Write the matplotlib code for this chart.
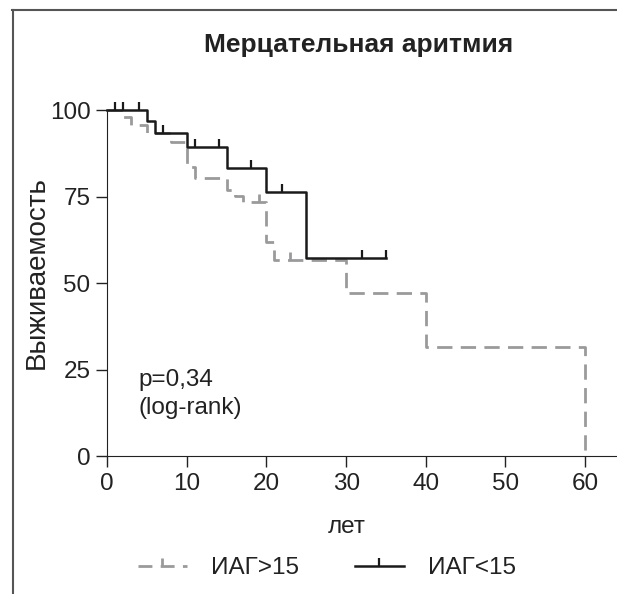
import matplotlib
matplotlib.use("Agg")
import matplotlib.pyplot as plt
from matplotlib.path import Path
from matplotlib.lines import Line2D

# ИАГ>15 (grey dashed)
gray_t = [0, 2, 3, 5, 8, 10, 11, 15, 16, 17, 20, 21, 30, 40, 60]
gray_s = [100, 98.1, 95.7, 93.3, 90.8, 83.6, 80.3, 76.9, 75.2, 73.5, 61.9, 56.6, 47.2, 31.4, 0]
gray_cens_t = [19, 23]
gray_cens_s = [73.5, 56.6]

# ИАГ<15 (black solid)
black_t = [0, 5, 6, 10, 15, 20, 25, 35]
black_s = [100, 96.8, 93.3, 89.2, 83.2, 76.2, 57.3, 57.3]
black_cens_t = [1, 2, 4, 7, 11, 14, 18, 22, 32, 35]
black_cens_s = [100, 100, 100, 93.3, 89.2, 89.2, 83.2, 76.2, 57.3, 57.3]

x_ticks = [0, 10, 20, 30, 40, 50, 60]
y_ticks = [0, 25, 50, 75, 100]

plt.rcParams['font.family'] = ['Liberation Sans', 'DejaVu Sans']
TEXT = '#222222'
GREY = '#9a9a9c'
FS = 17.5

fig = plt.figure(figsize=(6.17, 5.94), dpi=100)
ax = fig.add_axes([0.1737, 0.2323, 0.8263, 0.5825])

# tick mark going up from the point
up_tick = Path([(0, 0), (0, 1)])

ax.step(gray_t, gray_s, where='post', color=GREY, lw=2.0,
        dashes=(5.5, 3), clip_on=False)
ax.plot(gray_cens_t, gray_cens_s, ls='none', marker=up_tick, ms=12,
        mec=GREY, mew=2.0, clip_on=False)

ax.step(black_t, black_s, where='post', color='#1a1a1a', lw=1.8, clip_on=False)
ax.plot(black_cens_t, black_cens_s, ls='none', marker=up_tick, ms=12,
        mec='#1a1a1a', mew=1.6, clip_on=False)

ax.set_xlim(0, 64)
ax.set_ylim(0, 100)
ax.set_xticks(x_ticks)
ax.set_yticks(y_ticks)
ax.tick_params(direction='out', length=8, width=1.0, colors=TEXT,
               labelsize=FS, pad=4)
ax.spines['top'].set_visible(False)
ax.spines['right'].set_visible(False)
ax.spines['left'].set_color(TEXT)
ax.spines['bottom'].set_color(TEXT)

ax.set_ylabel("Выживаемость", fontsize=20, color=TEXT)
ax.yaxis.set_label_coords(-0.113, 0.53)
ax.set_xlabel("лет", fontsize=FS, color=TEXT)
ax.xaxis.set_label_coords(0.47, -0.174)

ax.text(3.9, 22, "p=0,34", fontsize=FS, color=TEXT, va='center')
ax.text(3.9, 13.9, "(log-rank)", fontsize=FS, color=TEXT, va='center')

fig.text(0.582, 1 - 45 / 594, "Мерцательная аритмия", fontsize=19,
         fontweight='bold', color=TEXT, ha='center', va='center')

handles = [
    Line2D([], [], color=GREY, lw=2.0, dashes=(5, 3), marker=up_tick,
           ms=12, mew=2.0),
    Line2D([], [], color='#1a1a1a', lw=1.8, marker=up_tick, ms=12, mew=1.6),
]
ax.legend(handles, ["ИАГ>15", "ИАГ<15"], loc='center',
          bbox_to_anchor=(0.53, 0.043), bbox_transform=fig.transFigure,
          ncol=2, frameon=False, fontsize=FS, handlelength=2.0,
          handletextpad=1.0, columnspacing=2.3, numpoints=1,
          labelcolor=TEXT)

# outer frame
fig.add_artist(Line2D([12 / 617, 1], [1 - 10 / 594, 1 - 10 / 594],
                      transform=fig.transFigure, color='#555555', lw=1.5))
fig.add_artist(Line2D([13 / 617, 13 / 617], [0, 1 - 10 / 594],
                      transform=fig.transFigure, color='#555555', lw=1.5))

fig.savefig("out.png", dpi=100, facecolor='white')
